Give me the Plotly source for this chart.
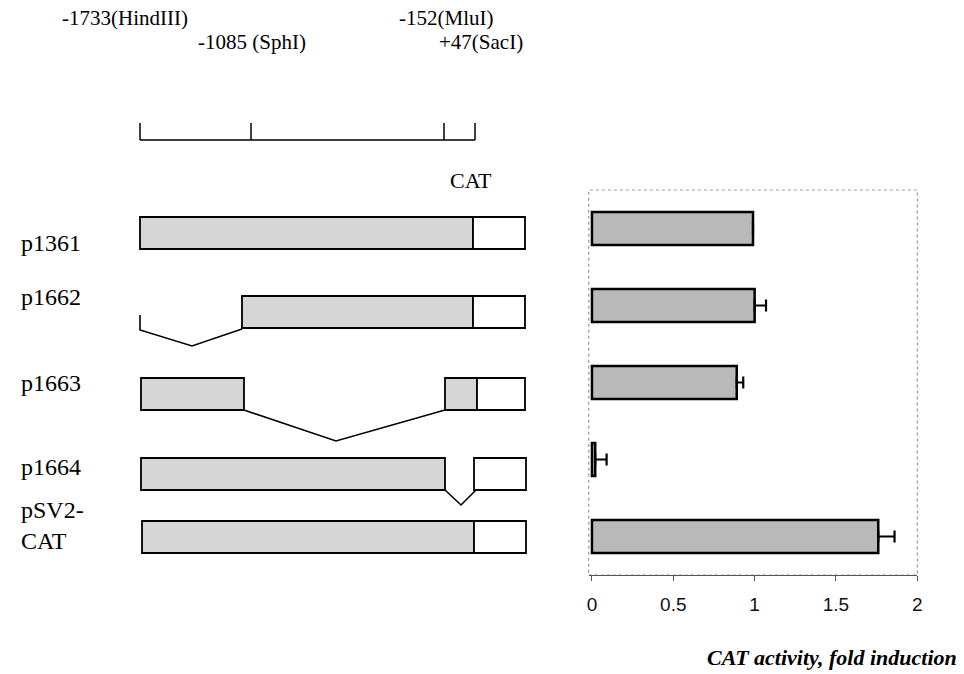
import plotly.graph_objects as go

# ---------------- data ----------------
constructs = ["p1361", "p1662", "p1663", "p1664", "pSV2-CAT"]
row_labels = ["p1361", "p1662", "p1663", "p1664", "pSV2-<br>CAT"]
fold_induction = [0.99, 1.00, 0.89, 0.02, 1.76]
fold_error = [0.0, 0.07, 0.04, 0.07, 0.10]
x_ticks = [0, 0.5, 1, 1.5, 2]
x_ticktext = ["0", "0.5", "1", "1.5", "2"]

# restriction map (diagram units along the promoter)
site_labels = ["-1733(HindIII)", "-1085 (SphI)", "-152(MluI)", "+47(SacI)"]
site_ticks = [0, 111, 304, 335]
site_label_x = [-80, 56, 257, 297]
site_label_y = [18, 42, 18, 42]
ruler_y = 140
ruler_tick_top = 123

# constructs diagram: row centre (diagram units) and segments (start, end, kind)
row_y = [233, 312, 394, 474, 537]
row_label_y = [243, 297, 383, 467, 525]
box_half = 16
segments = [
    [(0, 333, "promoter"), (333, 385, "CAT")],
    [(102, 333, "promoter"), (333, 385, "CAT")],
    [(1, 104, "promoter"), (305, 337, "promoter"), (337, 385, "CAT")],
    [(1, 305, "promoter"), (334, 386, "CAT")],
    [(2, 334, "promoter"), (334, 386, "CAT")],
]
deletions = [
    [],
    [(0, 315), (0, 330), (52, 346), (102, 329)],
    [(104, 410), (196, 441), (305, 410)],
    [(305, 490), (321, 505), (337, 489)],
    [],
]

SERIF = "Liberation Serif, Times New Roman, serif"
SANS = "Liberation Sans, Arial, sans-serif"

fig = go.Figure()

# ---------------- bar chart ----------------
fig.add_trace(go.Bar(
    y=constructs, x=fold_induction, orientation="h",
    marker=dict(color="#b9b9b9", line=dict(color="black", width=2.5)),
    width=0.43,
    error_x=dict(type="data", symmetric=False, array=fold_error,
                 arrayminus=[0] * len(fold_error),
                 color="black", thickness=2.2, width=6),
    xaxis="x", yaxis="y", showlegend=False, hoverinfo="x+y",
))

# ---------------- diagram ----------------
shapes = []
fills = {"promoter": "#d6d6d6", "CAT": "white"}
for yc, segs in zip(row_y, segments):
    for s, e, kind in segs:
        shapes.append(dict(type="rect", xref="x2", yref="y2",
                           x0=s, x1=e, y0=yc - box_half, y1=yc + box_half,
                           fillcolor=fills[kind],
                           line=dict(color="black", width=1.8), layer="above"))

# ruler
ruler_x = [site_ticks[0], site_ticks[-1]]
fig.add_trace(go.Scatter(x=ruler_x, y=[ruler_y, ruler_y], mode="lines",
                         line=dict(color="black", width=1.5),
                         xaxis="x2", yaxis="y2", showlegend=False, hoverinfo="skip"))
for t in site_ticks:
    fig.add_trace(go.Scatter(x=[t, t], y=[ruler_tick_top, ruler_y], mode="lines",
                             line=dict(color="black", width=1.5),
                             xaxis="x2", yaxis="y2", showlegend=False, hoverinfo="skip"))

# deletion lines
for pts in deletions:
    if pts:
        fig.add_trace(go.Scatter(x=[p[0] for p in pts], y=[p[1] for p in pts],
                                 mode="lines", line=dict(color="black", width=1.6),
                                 xaxis="x2", yaxis="y2", showlegend=False,
                                 hoverinfo="skip"))

# frame of the bar chart (dotted)
shapes.append(dict(type="rect", xref="x domain", yref="y domain",
                   x0=0, x1=1, y0=0, y1=1,
                   line=dict(color="#999999", width=1.2, dash="dot"), layer="below"))

annotations = []
for lab, lx, ly in zip(site_labels, site_label_x, site_label_y):
    annotations.append(dict(text=lab, x=lx, y=ly, xref="x2", yref="y2",
                            xanchor="left", yanchor="middle", showarrow=False,
                            font=dict(family=SERIF, size=21, color="black")))
annotations.append(dict(text="CAT", x=331, y=180, xref="x2", yref="y2",
                        xanchor="center", yanchor="middle", showarrow=False,
                        font=dict(family=SERIF, size=22, color="black")))
for lab, ly in zip(row_labels, row_label_y):
    annotations.append(dict(text=lab, x=-121, y=ly, xref="x2", yref="y2",
                            xanchor="left", yanchor="middle", align="left",
                            showarrow=False,
                            font=dict(family=SERIF, size=24, color="black")))
annotations.append(dict(text="<b><i>CAT activity, fold induction</i></b>",
                        x=1.0, y=1 - 657 / 674, xref="paper", yref="paper",
                        xanchor="right", yanchor="middle", showarrow=False,
                        font=dict(family=SERIF, size=22, color="black")))

fig.update_layout(
    width=964, height=674,
    margin=dict(l=0, r=0, t=0, b=0),
    paper_bgcolor="white", plot_bgcolor="rgba(0,0,0,0)",
    shapes=shapes, annotations=annotations,
    xaxis=dict(domain=[591 / 964, 922 / 964], range=[-0.02, 2.0],
               tickvals=x_ticks, ticktext=x_ticktext,
               ticks="outside", ticklen=5, tickcolor="#555555",
               showline=True, linecolor="#555555", linewidth=1.2,
               showgrid=False, zeroline=False, ticklabelstandoff=7,
               tickfont=dict(family=SANS, size=19, color="#111111"),
               anchor="y"),
    yaxis=dict(domain=[(674 - 575) / 674, (674 - 190) / 674],
               type="category", categoryarray=constructs,
               range=[4.5, -0.5], showticklabels=False, ticks="",
               showgrid=False, zeroline=False, showline=False, anchor="x"),
    xaxis2=dict(domain=[0, 1], range=[-138, 819], visible=False,
                anchor="y2"),
    yaxis2=dict(domain=[0, 1], range=[674, 0], visible=False,
                anchor="x2"),
)

fig.write_html("out.html", config={"displayModeBar": False},
               post_script="document.body.style.margin='0';document.body.style.overflow='hidden';")
